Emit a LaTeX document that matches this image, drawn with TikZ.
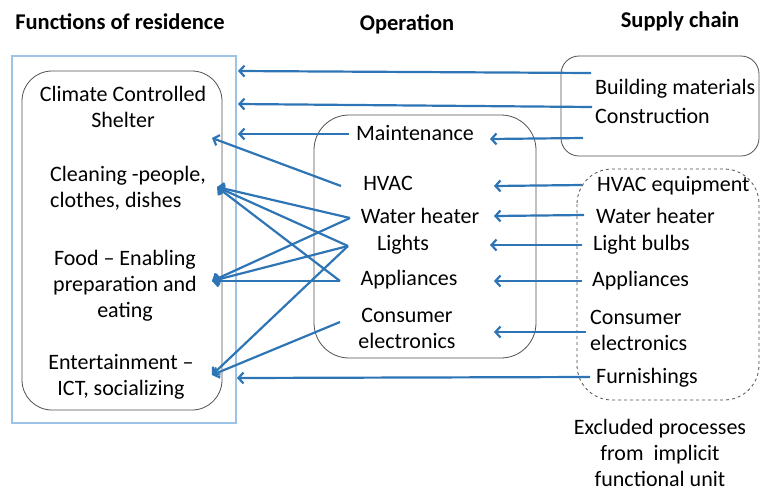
\documentclass[tikz,border=0pt]{standalone}
\usepackage{fontspec}
\setmainfont{Carlito}
\usetikzlibrary{arrows.meta}
\definecolor{arr}{RGB}{46,117,182}
\definecolor{lblue}{RGB}{157,195,230}
\definecolor{boxgray}{RGB}{80,80,80}
\tikzset{
  txt/.style={inner sep=0pt, font=\fontsize{22}{26}\selectfont},
  ttl/.style={inner sep=0pt, font=\fontsize{22.5}{26}\selectfont\bfseries},
  conn/.style={draw=arr, line width=2.2pt, -{Straight Barb[length=5pt,width=11pt]}},
  rbox/.style={draw=boxgray, line width=0.8pt},
}
\begin{document}
\begin{tikzpicture}[x=1pt,y=-1pt]
\useasboundingbox (0,0) rectangle (760,491);
% titles
\node[ttl] (t1) at (120,22) {Functions of residence};
\node[ttl] (t2) at (407,24) {Operation};
\node[ttl] (t3) at (680,21) {Supply chain};
% boxes
\draw[lblue, line width=1.2pt] (12,56) rectangle (236,423);
\draw[rbox, rounded corners=30pt] (22,71) rectangle (222,410);
\draw[rbox, rounded corners=35pt] (314,115) rectangle (536,358);
\draw[rbox, rounded corners=18pt] (561,56) rectangle (759,156);
\draw[rbox, dashed, rounded corners=35pt] (577,169) rectangle (759,400);
% left texts
\node[txt, align=center] (climate) at (123,107) {Climate Controlled\\Shelter};
\node[txt, align=left, anchor=west] (clean) at (50,188) {Cleaning -people,\\clothes, dishes};
\node[txt, align=center] (food) at (125,286) {Food – Enabling\\preparation and\\eating};
\node[txt, align=center] (ent) at (121,377) {Entertainment –\\ICT, socializing};
% middle texts
\node[txt] (maint) at (415,133) {Maintenance};
\node[txt] (hvac) at (388,183) {HVAC};
\node[txt] (wh) at (420,216) {Water heater};
\node[txt] (lights) at (403,245) {Lights};
\node[txt] (app) at (409,280) {Appliances};
\node[txt, align=center] (ce) at (407,328) {Consumer\\electronics};
% right texts
\node[txt, anchor=west] (bm) at (595,89) {Building materials};
\node[txt, anchor=west] (cons) at (595,116) {Construction};
\node[txt, anchor=west] (hvaceq) at (597,186) {HVAC equipment};
\node[txt, anchor=west] (whs) at (596,216) {Water heater};
\node[txt, anchor=west] (lb) at (593,245) {Light bulbs};
\node[txt, anchor=west] (apps) at (592,281) {Appliances};
\node[txt, anchor=west, align=left] (ces) at (590,330) {Consumer\\electronics};
\node[txt, anchor=west] (furn) at (596,378) {Furnishings};
\node[txt, align=center] (cap) at (660,453) {Excluded processes\\from\ \ implicit\\functional unit};
% coordinates
\coordinate (fA) at (238,71);
\coordinate (fB) at (238,104);
\coordinate (fM) at (238,134);
\coordinate (fF) at (237,378);
\coordinate (eC) at (212,138);
\coordinate (eCl) at (217,187);
\coordinate (eF) at (212,281);
\coordinate (eE) at (212,375);
\coordinate (sBM) at (591,73);
\coordinate (sCO) at (592,107);
\coordinate (sMT) at (583,138);
\coordinate (sHV) at (582,185);
\coordinate (sWH) at (584,215);
\coordinate (sLB) at (582,245);
\coordinate (sAP) at (582,281);
\coordinate (sCE) at (586,332);
\coordinate (sFU) at (590,377);
\coordinate (mMT) at (490,139);
\coordinate (mHV) at (494,186);
\coordinate (mWH) at (494,216);
\coordinate (mLB) at (490,245);
\coordinate (mAP) at (494,281);
\coordinate (mCE) at (494,332);
\coordinate (oMT) at (349,134);
\coordinate (oHV) at (341,186);
\coordinate (oWH) at (350,218);
\coordinate (oLB) at (348,246);
\coordinate (oAP) at (340,281);
\coordinate (oCE) at (340,322);
% supply arrows
\draw[conn] (sBM) -- (fA);
\draw[conn] (sCO) -- (fB);
\draw[conn] (sMT) -- (mMT);
\draw[conn] (sHV) -- (mHV);
\draw[conn] (sWH) -- (mWH);
\draw[conn] (sLB) -- (mLB);
\draw[conn] (sAP) -- (mAP);
\draw[conn] (sCE) -- (mCE);
\draw[conn] (sFU) -- (fF);
\draw[conn] (oMT) -- (fM);
% operation to functions
\draw[conn] (oHV) -- (eC);
\draw[conn] (oWH) -- (eCl);
\draw[conn] (oWH) -- (eF);
\draw[conn] (oLB) -- (eCl);
\draw[conn] (oLB) -- (eF);
\draw[conn] (oLB) -- (eE);
\draw[conn] (oAP) -- (eCl);
\draw[conn] (oAP) -- (eF);
\draw[conn] (oCE) -- (eE);
\end{tikzpicture}
\end{document}
